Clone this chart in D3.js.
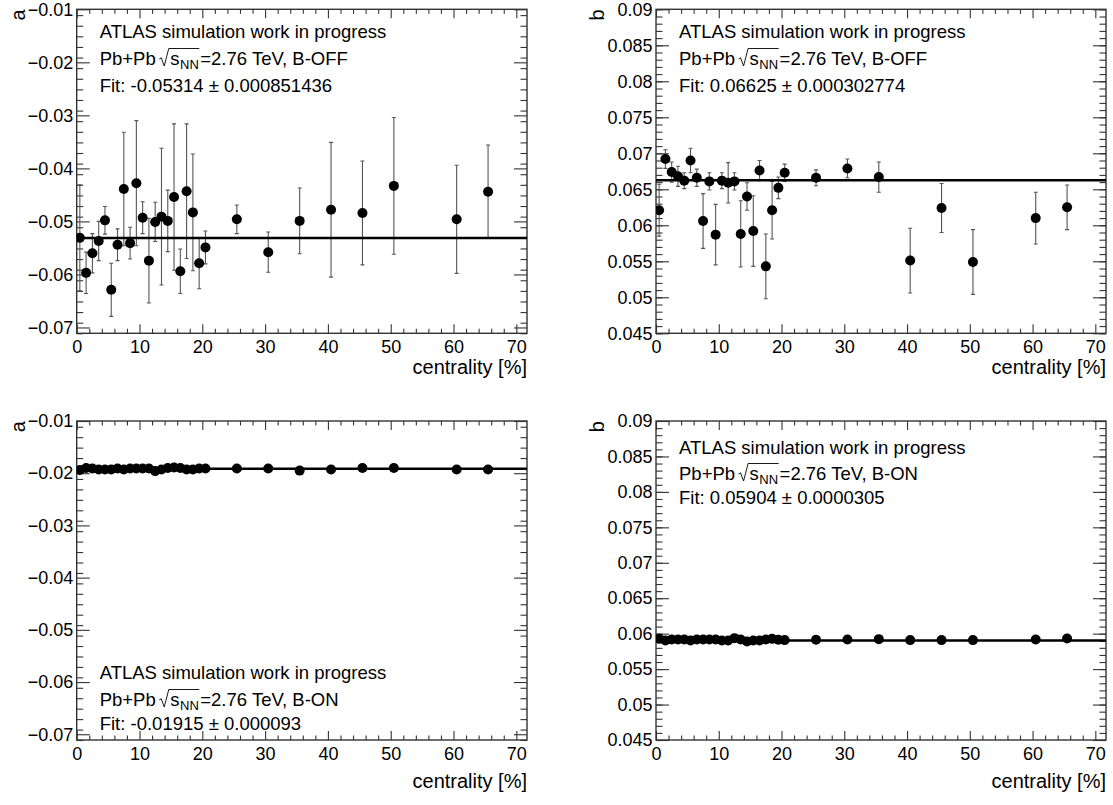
<!DOCTYPE html>
<html>
<head>
<meta charset="utf-8">
<script src="https://cdn.jsdelivr.net/npm/d3@7"></script>
<style>
  body { margin: 0; background: #fff; }
  text { font-family: "Liberation Sans", Arial, Helvetica, sans-serif; fill: #000; }
</style>
</head>
<body>
<svg id="canvas" width="1113" height="805"></svg>
<script>
// Centrality bin centres [%]
const centrality = [0.5, 1.5, 2.5, 3.5, 4.5, 5.5, 6.5, 7.5, 8.5, 9.5, 10.5,
  11.5, 12.5, 13.5, 14.5, 15.5, 16.5, 17.5, 18.5, 19.5, 20.5,
  25.5, 30.5, 35.5, 40.5, 45.5, 50.5, 60.5, 65.5];

// Parameter a, field off
const aOffValues = [-0.0531, -0.0597, -0.0560, -0.0537, -0.0498, -0.0629, -0.0544, -0.0439, -0.0541, -0.0428, -0.0493,
  -0.0574, -0.0501, -0.0491, -0.0499, -0.0454, -0.0594, -0.0443, -0.0483, -0.0579, -0.0549,
  -0.0496, -0.0558, -0.0499, -0.0478, -0.0484, -0.0433, -0.0496, -0.0444];
const aOffErrors = [0.0100, 0.0039, 0.0037, 0.0037, 0.0026, 0.0050, 0.0030, 0.0107, 0.0030, 0.0118, 0.0030,
  0.0080, 0.0037, 0.0129, 0.0058, 0.0138, 0.0042, 0.0127, 0.0110, 0.0048, 0.0031,
  0.0027, 0.0038, 0.0062, 0.0127, 0.0098, 0.0129, 0.0102, 0.0088];

// Parameter b, field off
const bOffValues = [0.0621, 0.0692, 0.0674, 0.0668, 0.0662, 0.0690, 0.0666, 0.0606, 0.0661, 0.0587, 0.0662,
  0.0659, 0.0661, 0.0588, 0.0640, 0.0592, 0.0676, 0.0543, 0.0621, 0.0652, 0.0673,
  0.0666, 0.0679, 0.0667, 0.0551, 0.0624, 0.0549, 0.0610, 0.0625];
const bOffErrors = [0.0036, 0.0013, 0.0014, 0.0014, 0.0011, 0.0017, 0.0012, 0.0038, 0.0012, 0.0042, 0.0011,
  0.0028, 0.0012, 0.0046, 0.0019, 0.0049, 0.0014, 0.0045, 0.0040, 0.0015, 0.0012,
  0.0011, 0.0013, 0.0021, 0.0045, 0.0034, 0.0045, 0.0036, 0.0031];

// Parameter a, field on
const aOnValues = [-0.0194, -0.0190, -0.0191, -0.0193, -0.0193, -0.0193, -0.0191, -0.0193, -0.0191, -0.0191, -0.0191,
  -0.0191, -0.0196, -0.0193, -0.0190, -0.0189, -0.0190, -0.0193, -0.0193, -0.0191, -0.0191,
  -0.0191, -0.0191, -0.0195, -0.0193, -0.0190, -0.0190, -0.0193, -0.0193];
const aOnErrors = [0.0006, 0.0002, 0.0002, 0.0002, 0.0002, 0.0002, 0.0002, 0.0002, 0.0002, 0.0002, 0.0002,
  0.0002, 0.0002, 0.0002, 0.0002, 0.0002, 0.0002, 0.0002, 0.0002, 0.0002, 0.0002,
  0.0002, 0.0002, 0.0002, 0.0002, 0.0002, 0.0002, 0.0002, 0.0002];

// Parameter b, field on
const bOnValues = [0.05927, 0.05904, 0.05918, 0.05918, 0.05918, 0.05904, 0.05918, 0.05918, 0.05918, 0.05918, 0.05904,
  0.05904, 0.05937, 0.05918, 0.05890, 0.05904, 0.05904, 0.05918, 0.05927, 0.05913, 0.05909,
  0.05913, 0.05918, 0.05923, 0.05909, 0.05909, 0.05909, 0.05918, 0.05932];
const bOnErrors = [0.0003, 0.0001, 0.0001, 0.0001, 0.0001, 0.0001, 0.0001, 0.0001, 0.0001, 0.0001, 0.0001,
  0.0001, 0.0001, 0.0001, 0.0001, 0.0001, 0.0001, 0.0001, 0.0001, 0.0001, 0.0001,
  0.0001, 0.0001, 0.0001, 0.0001, 0.0001, 0.0001, 0.0001, 0.0001];

// Constant fits
const fitValues = { aOff: -0.05314, bOff: 0.06625, aOn: -0.01915, bOn: 0.05904 };
const fitLabels = {
  aOff: "-0.05314 \u00B1 0.000851436",
  bOff: "0.06625 \u00B1 0.000302774",
  aOn: "-0.01915 \u00B1 0.000093",
  bOn: "0.05904 \u00B1 0.0000305"
};

// Axis ticks
const xTicks = [0, 10, 20, 30, 40, 50, 60, 70];
const aTicks = [-0.07, -0.06, -0.05, -0.04, -0.03, -0.02, -0.01];
const aTickLabels = ["\u22120.07", "\u22120.06", "\u22120.05", "\u22120.04", "\u22120.03", "\u22120.02", "\u22120.01"];
const bTicks = [0.045, 0.05, 0.055, 0.06, 0.065, 0.07, 0.075, 0.08, 0.085, 0.09];
const bTickLabels = ["0.045", "0.05", "0.055", "0.06", "0.065", "0.07", "0.075", "0.08", "0.085", "0.09"];

const headerLine = "ATLAS simulation work in progress";
const xTitle = "centrality [%]";

const svg = d3.select("#canvas");
const FRAME = "#333";
const FONT = 18;
const LABEL_FONT = 18.5;

function drawPanel(p) {
  const g = svg.append("g");
  const x = d3.scaleLinear().domain([0, 71.7]).range([p.left, p.right]);
  const y = d3.scaleLinear().domain(p.yDomain).range([p.bottom, p.top]);

  const clipId = "clip-" + p.id;
  svg.append("clipPath").attr("id", clipId)
    .append("rect").attr("x", p.left).attr("y", p.top)
    .attr("width", p.right - p.left).attr("height", p.bottom - p.top);

  // minor ticks
  const xMinor = d3.range(0, 36).map(i => i * 2).filter(v => v <= 71.7 && v % 10 !== 0);
  const yMinor = d3.range(0, 61).map(i => +(p.yDomain[0] + i * p.yMinorStep).toFixed(5))
    .filter(v => v >= p.yDomain[0] && v <= p.yDomain[1] + 1e-9);

  const styleAxis = sel => {
    sel.select(".domain").remove();
    sel.selectAll(".tick line").attr("stroke", FRAME).attr("stroke-width", 1.1);
    sel.selectAll(".tick text").attr("font-size", FONT)
      .attr("font-family", '"Liberation Sans", Arial, sans-serif').attr("fill", "#000");
  };

  // bottom axis (labels)
  g.append("g").attr("transform", `translate(0,${p.bottom})`)
    .call(d3.axisBottom(x).tickValues(xTicks).tickSize(-9).tickPadding(7).tickFormat(d3.format("d")))
    .call(styleAxis);
  g.append("g").attr("transform", `translate(0,${p.bottom})`)
    .call(d3.axisBottom(x).tickValues(xMinor).tickSize(-4.5).tickFormat(""))
    .call(styleAxis);
  // top axis
  g.append("g").attr("transform", `translate(0,${p.top})`)
    .call(d3.axisTop(x).tickValues(xTicks).tickSize(-9).tickFormat(""))
    .call(styleAxis);
  g.append("g").attr("transform", `translate(0,${p.top})`)
    .call(d3.axisTop(x).tickValues(xMinor).tickSize(-4.5).tickFormat(""))
    .call(styleAxis);
  // left axis (labels)
  g.append("g").attr("transform", `translate(${p.left},0)`)
    .call(d3.axisLeft(y).tickValues(p.yTicks).tickSize(-13).tickPadding(3.5)
      .tickFormat((d, i) => p.yTickLabels[i]))
    .call(styleAxis);
  g.append("g").attr("transform", `translate(${p.left},0)`)
    .call(d3.axisLeft(y).tickValues(yMinor).tickSize(-6.5).tickFormat(""))
    .call(styleAxis);
  // right axis
  g.append("g").attr("transform", `translate(${p.right},0)`)
    .call(d3.axisRight(y).tickValues(p.yTicks).tickSize(-13).tickFormat(""))
    .call(styleAxis);
  g.append("g").attr("transform", `translate(${p.right},0)`)
    .call(d3.axisRight(y).tickValues(yMinor).tickSize(-6.5).tickFormat(""))
    .call(styleAxis);

  // frame
  g.append("rect").attr("x", p.left).attr("y", p.top)
    .attr("width", p.right - p.left).attr("height", p.bottom - p.top)
    .attr("fill", "none").attr("stroke", FRAME).attr("stroke-width", 1.4);

  // axis titles
  g.append("text").attr("text-anchor", "end").attr("font-size", 20)
    .attr("transform", `translate(${p.left - 52},${p.top}) rotate(-90)`)
    .text(p.yTitle);
  g.append("text").attr("text-anchor", "end").attr("font-size", 20)
    .attr("x", p.right).attr("y", p.bottom + p.titleOffset).text(xTitle);

  const data = centrality.map((c, i) => ({ c, v: p.values[i], e: p.errors[i] }));
  const plot = g.append("g").attr("clip-path", `url(#${clipId})`);

  // error bars
  const eb = plot.append("g").attr("stroke", "#555").attr("stroke-width", 1.1);
  data.forEach(d => {
    const cx = x(d.c);
    eb.append("line").attr("x1", cx).attr("x2", cx)
      .attr("y1", y(d.v - d.e)).attr("y2", y(d.v + d.e));
    [d.v - d.e, d.v + d.e].forEach(v => {
      eb.append("line").attr("x1", cx - 2).attr("x2", cx + 2)
        .attr("y1", y(v)).attr("y2", y(v));
    });
  });

  // constant fit
  plot.append("path")
    .datum([0, 71.7])
    .attr("d", d3.line().x(d => x(d)).y(() => y(p.fit)))
    .attr("stroke", "#000").attr("stroke-width", 2.4).attr("fill", "none");

  // markers
  plot.append("g").selectAll("circle").data(data).join("circle")
    .attr("cx", d => x(d.c)).attr("cy", d => y(d.v)).attr("r", 5).attr("fill", "#000");

  // header text block
  const tx = p.left + 23;
  const [b1, b2, b3] = p.baselines;
  g.append("text").attr("x", tx).attr("y", b1).attr("font-size", LABEL_FONT).text(headerLine);

  const t1 = g.append("text").attr("x", tx).attr("y", b2).attr("font-size", LABEL_FONT).text("Pb+Pb");
  const w1 = t1.node().getComputedTextLength();
  const rx = tx + w1 + 3.5;
  const ts = g.append("text").attr("x", rx + 11).attr("y", b2).attr("font-size", LABEL_FONT).text("s");
  const ws = ts.node().getComputedTextLength();
  const tn = g.append("text").attr("x", rx + 11 + ws + 0.5).attr("y", b2 + 3.5).attr("font-size", 13).text("NN");
  const wn = tn.node().getComputedTextLength();
  const endOver = rx + 11 + ws + 0.5 + wn + 0.5;
  g.append("path")
    .attr("d", `M${rx},${b2 - 6} L${rx + 2},${b2 - 7.2} L${rx + 5},${b2 + 1} L${rx + 9.5},${b2 - 16.5} L${endOver},${b2 - 16.5}`)
    .attr("fill", "none").attr("stroke", "#000").attr("stroke-width", 0.9);
  g.append("text").attr("x", endOver + 1).attr("y", b2).attr("font-size", LABEL_FONT)
    .text("=2.76 TeV, " + p.tag);

  g.append("text").attr("x", tx).attr("y", b3).attr("font-size", LABEL_FONT).text("Fit: " + p.fitLabel);
}

const L = [76.7, 527], R = [656, 1106];
const T = [9.3, 333.3], B = [421, 740];

drawPanel({ id: "aOff", left: L[0], right: L[1], top: T[0], bottom: T[1], titleOffset: 41,
  yDomain: [-0.0711, -0.01], yTicks: aTicks, yTickLabels: aTickLabels, yMinorStep: 0.002,
  values: aOffValues, errors: aOffErrors, fit: fitValues.aOff, fitLabel: fitLabels.aOff,
  yTitle: "a", tag: "B-OFF", baselines: [38, 65, 92] });

drawPanel({ id: "bOff", left: R[0], right: R[1], top: T[0], bottom: T[1], titleOffset: 41,
  yDomain: [0.045, 0.09], yTicks: bTicks, yTickLabels: bTickLabels, yMinorStep: 0.001,
  values: bOffValues, errors: bOffErrors, fit: fitValues.bOff, fitLabel: fitLabels.bOff,
  yTitle: "b", tag: "B-OFF", baselines: [38, 65, 92] });

drawPanel({ id: "aOn", left: L[0], right: L[1], top: B[0], bottom: B[1], titleOffset: 48,
  yDomain: [-0.0711, -0.01], yTicks: aTicks, yTickLabels: aTickLabels, yMinorStep: 0.002,
  values: aOnValues, errors: aOnErrors, fit: fitValues.aOn, fitLabel: fitLabels.aOn,
  yTitle: "a", tag: "B-ON", baselines: [679, 706, 730] });

drawPanel({ id: "bOn", left: R[0], right: R[1], top: B[0], bottom: B[1], titleOffset: 48,
  yDomain: [0.045, 0.09], yTicks: bTicks, yTickLabels: bTickLabels, yMinorStep: 0.001,
  values: bOnValues, errors: bOnErrors, fit: fitValues.bOn, fitLabel: fitLabels.bOn,
  yTitle: "b", tag: "B-ON", baselines: [454, 480, 504] });
</script>
</body>
</html>
